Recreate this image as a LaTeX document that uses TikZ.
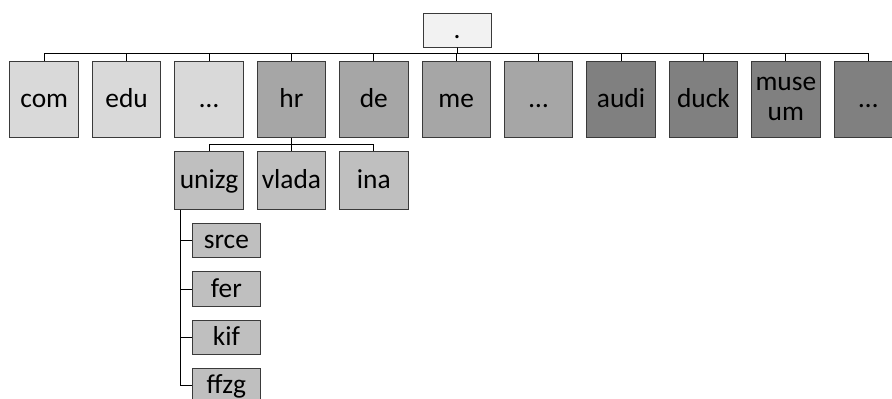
\documentclass[tikz,border=0pt]{standalone}
\usepackage{fontspec}
\setmainfont{Carlito}
\newcommand\boxfont{\fontsize{27.5}{31}\selectfont}
\definecolor{rootfill}{HTML}{F2F2F2}
\definecolor{lightfill}{HTML}{D9D9D9}
\definecolor{midfill}{HTML}{A6A6A6}
\definecolor{darkfill}{HTML}{808080}
\definecolor{subfill}{HTML}{BFBFBF}
\definecolor{boxline}{HTML}{3A3A3A}
\tikzset{
  dnsbox/.style={draw=boxline, line width=1bp, inner sep=0pt, font=\boxfont,
    text height=18bp, text depth=2bp, align=center},
  toplevel/.style={dnsbox, minimum width=68.5bp, minimum height=76bp},
  rootbox/.style={dnsbox, fill=rootfill, minimum width=68bp, minimum height=34bp},
  secondlevel/.style={dnsbox, fill=subfill, minimum width=68.5bp, minimum height=57.6bp},
  thirdlevel/.style={dnsbox, fill=subfill, minimum width=68.7bp, minimum height=34.3bp},
  conn/.style={draw=black, line width=1bp},
}
\begin{document}
\begin{tikzpicture}[x=1bp,y=-1bp]
\useasboundingbox (0,0) rectangle (892,398);
% root
\node[rootbox] (root) at (457,30) {.};
% top level
\node[toplevel, fill=lightfill] (com) at (44.25,99) {com};
\node[toplevel, fill=lightfill] (edu) at (126.65,99) {edu};
\node[toplevel, fill=lightfill] (dotsA) at (209.05,99) {…};
\node[toplevel, fill=midfill] (hr) at (291.45,99) {hr};
\node[toplevel, fill=midfill] (de) at (373.85,99) {de};
\node[toplevel, fill=midfill] (me) at (456.25,99) {me};
\node[toplevel, fill=midfill] (dotsB) at (538.65,99) {…};
\node[toplevel, fill=darkfill] (audi) at (621.05,99) {audi};
\node[toplevel, fill=darkfill] (duck) at (703.45,99) {duck};
\node[toplevel, fill=darkfill, text height=, text depth=] (museum) at (785.85,99) {muse\\um};
\node[toplevel, fill=darkfill] (dotsC) at (868.25,99) {…};
\foreach \c in {com,edu,dotsA,hr,de,me,dotsB,audi,duck,museum,dotsC}{
  \draw[conn] (root.south) -- ++(0,6.3) -| (\c.north);
}
% second level
\node[secondlevel] (unizg) at (209.05,180.5) {unizg};
\node[secondlevel] (vlada) at (291.45,180.5) {vlada};
\node[secondlevel] (ina) at (373.85,180.5) {ina};
\foreach \c in {unizg,vlada,ina}{
  \draw[conn] (hr.south) -- ++(0,7.3) -| (\c.north);
}
% third level
\node[thirdlevel] (srce) at (226.35,240.5) {srce};
\node[thirdlevel] (fer) at (226.35,289) {fer};
\node[thirdlevel] (kif) at (226.35,337.2) {kif};
\node[thirdlevel] (ffzg) at (226.35,385.8) {ffzg};
\coordinate (stem) at ([xshift=6.6bp]unizg.south west);
\foreach \c in {srce,fer,kif,ffzg}{
  \draw[conn] (stem) |- (\c.west);
}
\end{tikzpicture}
\end{document}
